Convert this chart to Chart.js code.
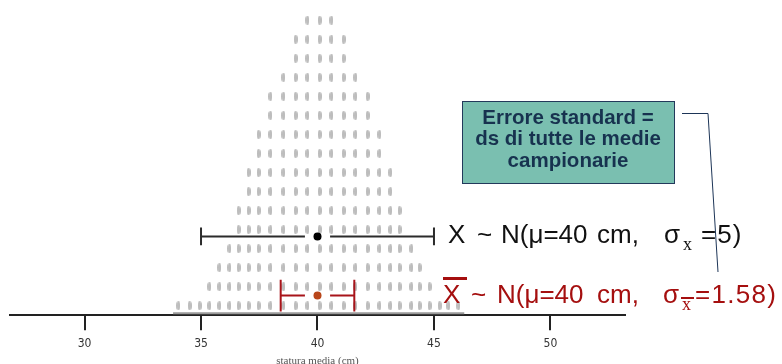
<!DOCTYPE html>
<html lang="it">
<head>
<meta charset="UTF-8">
<title>Distribuzione delle medie campionarie</title>
<script src="https://cdn.jsdelivr.net/npm/chart.js@4.4.1/dist/chart.umd.min.js"></script>
<style>
  html, body { margin: 0; padding: 0; background: #fff; }
  .chart-container { width: 782px; height: 364px; position: relative; }
</style>
</head>
<body>
<div class="chart-container"><canvas id="meansChart"></canvas></div>
<script>
// dot plot of the sample means: bin centre (cm) and how many dots are stacked on it
const binCentres = [34.03, 34.51, 34.94, 35.36, 35.79, 36.22, 36.61, 37.04, 37.47, 37.98,
                    38.54, 39.06, 39.57, 40.09, 40.60, 41.12, 41.63, 42.15, 42.66, 43.13,
                    43.52, 44.03, 44.38, 44.81, 45.24, 45.62, 46.05];
const binCounts = [1, 1, 1, 2, 3, 4, 6, 8, 10, 12,
                   13, 15, 16, 16, 16, 15, 13, 12, 10, 8,
                   6, 4, 3, 2, 1, 1, 1];
const dotBaseline = [33.8, 46.3];

// population and sampling distribution
const popMean = 40;
const popSd = 5;        // sigma_x
const stdError = 1.58;  // sigma_xbar
const barLevels = [4.64, 1.53];  // heights (in dot rows) of the two interval bars

const xTicks = [30, 35, 40, 45, 50];

const dotGap = 0.54;

function makeDot(w, h, color) {
    const c = document.createElement('canvas');
    c.width = w;
    c.height = h;
    const g = c.getContext('2d');
    g.fillStyle = color;
    g.beginPath();
    g.ellipse(w / 2, h / 2, w / 2, h / 2, 0, 0, Math.PI * 2);
    g.fill();
    return c;
}

const dots = [];
binCentres.forEach((x, i) => {
    for (let r = 1; r <= binCounts[i]; r++) dots.push({ x: x, y: r });
});

function segment(points, color) {
    return { data: points, showLine: true, borderColor: color, borderWidth: 2, pointRadius: 0, fill: false };
}

function intervalBar(mean, sd, level, capHalf, color, dotColor) {
    return [
        { data: [{ x: mean, y: level }], pointRadius: 4, backgroundColor: dotColor, borderWidth: 0 },
        segment([{ x: mean - sd, y: level }, { x: mean - dotGap, y: level }], color),
        segment([{ x: mean + dotGap, y: level }, { x: mean + sd, y: level }], color),
        segment([{ x: mean - sd, y: level - capHalf }, { x: mean - sd, y: level + capHalf }], color),
        segment([{ x: mean + sd, y: level - capHalf }, { x: mean + sd, y: level + capHalf }], color)
    ];
}

const datasets = [
    ...intervalBar(popMean, popSd, barLevels[0], 0.47, '#2b2b2b', '#000000'),
    ...intervalBar(popMean, stdError, barLevels[1], 0.83, '#a8141a', '#b8461a'),
    segment([{ x: dotBaseline[0], y: 0.6 }, { x: dotBaseline[1], y: 0.6 }], '#9a9a9a'),
    { data: dots, pointStyle: makeDot(4, 9, '#bdbdbd'), pointRadius: 4 }
];

const sans = "'Liberation Sans', Arial, sans-serif";
const serif = "'Liberation Serif', 'Times New Roman', serif";

const annotations = {
    id: 'annotations',
    afterDraw(chart) {
        const ctx = chart.ctx;
        ctx.save();
        ctx.textBaseline = 'alphabetic';
        ctx.textAlign = 'left';

        function put(text, x, y, font, color, spacing) {
            ctx.font = font;
            ctx.fillStyle = color;
            ctx.letterSpacing = spacing || '0px';
            ctx.fillText(text, x, y);
        }

        // X ~ N(mu=40 cm, sigma_x=5)
        const black = '#111111';
        put('X', 448, 243, '26px ' + sans, black);
        put('~', 477, 243, '26px ' + sans, black);
        put('N(\u03bc=40', 501, 243, '26px ' + sans, black);
        put('cm,', 597, 243, '26px ' + sans, black);
        put('\u03c3', 664, 243, '26px ' + sans, black);
        put('x', 683, 250, '18px ' + serif, black);
        put('=5)', 701, 243, '26px ' + sans, black, '1px');

        // Xbar ~ N(mu=40 cm, sigma_xbar=1.58)
        const red = '#a50f0f';
        put('X', 443, 303, '26px ' + sans, red);
        ctx.fillRect(443, 277, 24, 3);
        put('~', 471, 303, '26px ' + sans, red);
        put('N(\u03bc=40', 497, 303, '26px ' + sans, red);
        put('cm,', 597, 303, '26px ' + sans, red);
        put('\u03c3', 663, 303, '26px ' + sans, red);
        put('x', 682, 310, '18px ' + serif, red);
        ctx.fillRect(681, 297, 13, 2);
        put('=1.58)', 695, 303, '26px ' + sans, red, '1.3px');

        // standard error box
        ctx.fillStyle = '#7abfb0';
        ctx.fillRect(462, 101, 213, 83);
        ctx.strokeStyle = '#23395b';
        ctx.lineWidth = 1;
        ctx.strokeRect(462.5, 101.5, 212, 82);
        ctx.textAlign = 'center';
        ['Errore standard =', 'ds di tutte le medie', 'campionarie'].forEach((t, i) => {
            put(t, 568, 123.5 + i * 21.5, 'bold 20.5px ' + sans, '#17324f');
        });

        // connector
        ctx.beginPath();
        ctx.moveTo(682, 113.5);
        ctx.lineTo(708, 113.5);
        ctx.lineTo(718, 272);
        ctx.strokeStyle = '#1d3557';
        ctx.lineWidth = 1;
        ctx.stroke();
        ctx.restore();
    }
};

new Chart(document.getElementById('meansChart'), {
    type: 'scatter',
    data: { datasets: datasets },
    options: {
        responsive: true,
        maintainAspectRatio: false,
        animation: false,
        layout: { padding: { left: 10, right: 157, top: 0, bottom: 0 } },
        plugins: { legend: { display: false }, tooltip: { enabled: false } },
        scales: {
            x: {
                type: 'linear',
                min: 26.8,
                max: 53.2,
                afterBuildTicks: axis => { axis.ticks = xTicks.map(v => ({ value: v })); },
                grid: { display: true, drawOnChartArea: false, drawTicks: true, tickLength: 15, color: '#222', lineWidth: 2 },
                border: { display: true, color: '#222', width: 2 },
                ticks: {
                    padding: 10,
                    color: '#333',
                    font: { family: "'Liberation Sans Narrow', 'DejaVu Sans Condensed', sans-serif", size: 12, lineHeight: 0.6 }
                },
                title: {
                    display: true,
                    text: 'statura media (cm)',
                    color: '#555',
                    font: { family: serif, size: 11, lineHeight: 0.6 },
                    padding: { top: 0, bottom: 0 }
                }
            },
            y: { type: 'linear', display: false, min: 0.5, max: 16.8 }
        }
    },
    plugins: [annotations]
});
</script>
</body>
</html>
